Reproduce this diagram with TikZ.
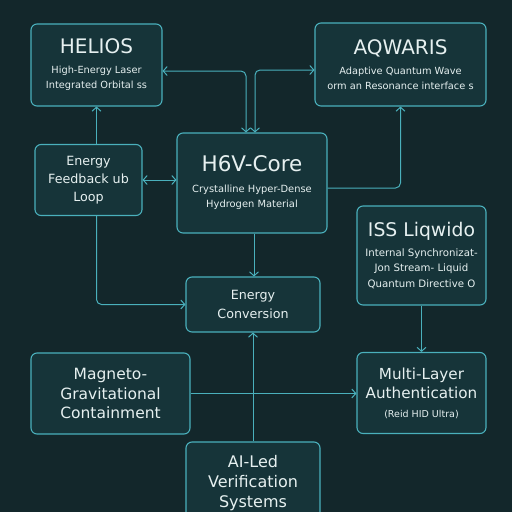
\documentclass[tikz,border=0pt]{standalone}
\usepackage{fontspec}
\setmainfont{DejaVu Sans}
\usepackage{tikz}
\usetikzlibrary{arrows.meta}
\definecolor{bgdark}{RGB}{19,39,43}
\definecolor{boxfill}{RGB}{22,52,57}
\definecolor{edgeteal}{RGB}{74,176,188}
\definecolor{textlight}{RGB}{230,240,240}
\tikzset{every picture/.style={line width=0.75pt}}
\tikzset{
	box/.style={draw=edgeteal, fill=boxfill, rounded corners=6pt, line width=1.1pt, align=center, text=textlight, inner sep=0pt},
	link/.style={draw=edgeteal, line width=1pt, rounded corners=5pt, arrows={-Straight Barb[length=4pt,width=9pt]}},
	dlink/.style={link, arrows={Straight Barb[length=4pt,width=9pt]-Straight Barb[length=4pt,width=9pt]}},
}
\newcommand{\fsz}[2]{\fontsize{#1pt}{#2pt}\selectfont}

\begin{document}
\begin{tikzpicture}[x=1pt,y=1pt,yscale=-1,xscale=1]
	%Shape: Background
	\fill [bgdark] (0,0) rectangle (512,512);
	\useasboundingbox (0,0) rectangle (512,512);
	
	% Text Node
	\node [box, minimum width=131pt, minimum height=82pt, font=\fsz{9.8}{15}] (helios) at (96.5,65) {\fsz{20}{21}HELIOS\\[5pt]High-Energy Laser\\Integrated Orbital ss};
	% Text Node
	\node [box, minimum width=171pt, minimum height=83pt, font=\fsz{9.8}{15}] (aqwaris) at (400.5,64.5) {\fsz{20}{21}AQWARIS\\[5pt]Adaptive Quantum Wave\\orm an Resonance interface s};
	% Text Node
	\node [box, minimum width=107pt, minimum height=71pt, font=\fsz{12.7}{18}] (feedback) at (88.5,180) {Energy\\Feedback ub\\Loop};
	% Text Node
	\node [box, minimum width=150pt, minimum height=100pt, font=\fsz{9.9}{15}] (core) at (252,183) {\fsz{21.5}{23}H6V-Core\\[6pt]Crystalline Hyper-Dense\\Hydrogen Material};
	% Text Node
	\node [box, minimum width=129pt, minimum height=99pt, font=\fsz{10.2}{15.5}] (iss) at (421.5,255.5) {\fsz{18.8}{20}ISS Liqwido\\[4pt]Internal Synchronizat-\\Jon Stream- Liquid\\Quantum Directive O};
	% Text Node
	\node [box, minimum width=134pt, minimum height=55pt, font=\fsz{12.7}{19}] (conv) at (253,304.5) {Energy\\Conversion};
	% Text Node
	\node [box, minimum width=159pt, minimum height=81pt, font=\fsz{15.5}{19.5}] (magneto) at (110.5,393.5) {Magneto-\\Gravitational\\Containment};
	% Text Node
	\node [box, minimum width=129pt, minimum height=81pt, font=\fsz{15.2}{19.5}] (auth) at (421.5,393) {Multi-Layer\\Authentication\\[-1pt]\fsz{9.5}{12}(Reid HID Ultra)};
	% Text Node
	\node [box, minimum width=134pt, minimum height=82pt, font=\fsz{16}{20}] (ai) at (253,483) {AI-Led\\Verification\\Systems};
	
	%Connectors
	\draw [dlink] ([yshift=6pt]helios.east) -| ([xshift=-6pt]core.north);
	\draw [dlink] ([xshift=3pt]core.north) |- ([yshift=5.5pt]aqwaris.west);
	\draw [link] ([yshift=5pt]core.east) -| (aqwaris.south);
	\draw [link] (helios.south |- feedback.north) -- (helios.south);
	\draw [dlink] (feedback.east) -- (feedback.east -| core.west);
	\draw [link] (helios.south |- feedback.south) |- (conv.west);
	\draw [link] ([xshift=2pt]core.south) -- ([xshift=2pt]core.south |- conv.north);
	\draw [link] (iss.south) -- (auth.north);
	\draw [link] (magneto.east) -- (magneto.east -| auth.west);
	\draw [link] (ai.north) -- (conv.south);
\end{tikzpicture}
\end{document}
